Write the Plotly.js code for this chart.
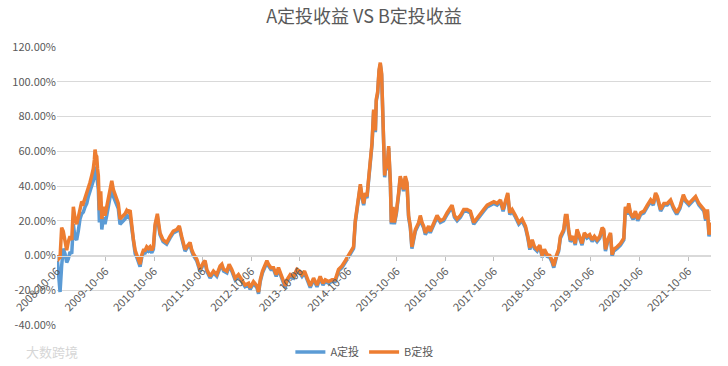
<!DOCTYPE html>
<html>
<head>
<meta charset="utf-8">
<script src="https://cdn.plot.ly/plotly-3.0.1.min.js"></script>
<style>
html,body{margin:0;padding:0;background:#fff;}
#chart{width:728px;height:366px;}
</style>
</head>
<body>
<div id="chart"></div>
<script>
// Dates of the sampled points
const dates = [
"2008-10-06","2008-10-17","2008-10-29","2008-11-10","2008-11-22","2008-12-05","2008-12-18","2008-12-30",
"2009-01-12","2009-01-25","2009-02-06","2009-02-19","2009-03-03","2009-03-15","2009-03-28","2009-04-10",
"2009-04-22","2009-05-05","2009-05-18","2009-05-30","2009-06-11","2009-06-24","2009-07-06","2009-07-14",
"2009-07-19","2009-07-25","2009-08-01","2009-08-07","2009-08-13","2009-08-21","2009-08-31","2009-09-08",
"2009-09-20","2009-10-02","2009-10-15","2009-10-27","2009-11-09","2009-11-22","2009-12-04","2009-12-17",
"2009-12-29","2010-01-10","2010-01-23","2010-02-05","2010-02-17","2010-03-02","2010-03-15","2010-03-27",
"2010-04-09","2010-04-21","2010-05-04","2010-05-17","2010-05-29","2010-06-10","2010-06-23","2010-07-06",
"2010-07-18","2010-07-31","2010-08-12","2010-08-25","2010-09-06","2010-09-19","2010-10-01","2010-10-14",
"2010-10-31","2010-11-07","2010-11-20","2010-12-13","2011-01-09","2011-02-03","2011-02-28","2011-03-26",
"2011-04-14","2011-05-02","2011-05-14","2011-05-27","2011-06-09","2011-07-04","2011-07-16","2011-07-29",
"2011-08-23","2011-09-17","2011-10-12","2011-10-25","2011-11-07","2011-12-02","2011-12-27","2012-01-21",
"2012-02-15","2012-02-28","2012-03-12","2012-04-06","2012-04-23","2012-05-13","2012-06-07","2012-07-02",
"2012-07-28","2012-08-21","2012-09-16","2012-09-28","2012-10-23","2012-11-18","2012-11-30","2012-12-13",
"2012-12-30","2013-01-19","2013-02-01","2013-02-13","2013-03-03","2013-03-23","2013-04-12","2013-04-29",
"2013-05-17","2013-06-06","2013-06-19","2013-07-02","2013-07-27","2013-08-21","2013-09-15","2013-10-05",
"2013-10-23","2013-11-11","2013-11-29","2013-12-24","2014-01-18","2014-02-13","2014-03-09","2014-03-30",
"2014-04-16","2014-05-11","2014-06-06","2014-06-30","2014-07-25","2014-08-20","2014-09-14","2014-10-08",
"2014-10-21","2014-11-15","2014-11-28","2014-12-11","2014-12-23","2015-01-05","2015-01-18","2015-01-30",
"2015-02-11","2015-02-24","2015-03-08","2015-03-21","2015-04-03","2015-04-15","2015-04-28","2015-05-05",
"2015-05-15","2015-05-26","2015-06-04","2015-06-14","2015-06-22","2015-06-29","2015-07-07","2015-07-18",
"2015-07-25","2015-08-06","2015-08-19","2015-08-26","2015-09-08","2015-09-18","2015-10-03","2015-10-20",
"2015-11-01","2015-11-14","2015-11-26","2015-12-09","2015-12-22","2016-01-03","2016-01-16","2016-01-28",
"2016-02-10","2016-02-23","2016-03-19","2016-03-31","2016-04-13","2016-04-25","2016-05-08","2016-06-02",
"2016-06-14","2016-07-09","2016-08-04","2016-08-29","2016-09-23","2016-10-19","2016-11-13","2016-11-25",
"2016-12-13","2017-01-02","2017-01-27","2017-02-21","2017-03-18","2017-04-12","2017-05-07","2017-06-01",
"2017-06-26","2017-07-21","2017-08-16","2017-09-10","2017-10-05","2017-10-30","2017-11-24","2017-12-14",
"2018-01-01","2018-01-18","2018-02-02","2018-02-20","2018-03-17","2018-04-11","2018-05-06","2018-05-31",
"2018-06-18","2018-07-03","2018-07-21","2018-08-07","2018-08-27","2018-09-16","2018-10-04","2018-10-21",
"2018-11-10","2018-11-30","2018-12-18","2018-12-30","2019-01-19","2019-02-05","2019-02-18","2019-03-03",
"2019-03-15","2019-03-28","2019-04-09","2019-04-21","2019-05-04","2019-05-24","2019-06-10","2019-06-23",
"2019-07-13","2019-07-31","2019-08-17","2019-09-06","2019-09-26","2019-10-15","2019-11-01","2019-11-21",
"2019-12-11","2019-12-29","2020-01-10","2020-01-23","2020-02-09","2020-03-01","2020-03-13","2020-03-25",
"2020-04-20","2020-05-15","2020-06-09","2020-06-21","2020-07-04","2020-07-16","2020-07-29","2020-08-18",
"2020-09-04","2020-09-22","2020-10-14","2020-11-07","2020-12-03","2020-12-28","2021-01-17","2021-02-03",
"2021-02-16","2021-03-13","2021-04-07","2021-05-02","2021-05-27","2021-06-17","2021-07-12","2021-08-05",
"2021-08-31","2021-09-17","2021-10-12","2021-11-07","2021-12-01","2021-12-26","2022-01-13","2022-02-02",
"2022-02-15","2022-02-28","2022-03-12","2022-03-25"
];

// B定投 return (%)
const bValues = [
0,-2,-1,16,14,9,3,8,
11,9,28,21,18,22,28,31,
30,33,35,39,42,46,50,55,
61,58,57,50,46,26,37,21,
28,23,28,32,36,43,38,35,
33,30,21,22,23,24,26,25,
26,17,9,3,0.5,-2.5,-5,0.5,
3,3,5,4,5,3,5,18,
24,20,13,9,7.5,11,14,15,
17,11,7.5,3.5,5,7.5,3.5,1,
-2,-8,-4,-3,-8,-12,-9,-11,
-6,-5,-8,-9,-5,-8,-13,-11,
-14,-17,-16,-18.5,-15,-17.5,-21,-14,
-9,-5,-3,-5,-7,-7,-11,-7,
-11,-15,-17.5,-14,-11,-12,-8,-9,
-11,-9,-13,-17.5,-13,-17,-12,-16,
-14,-15,-14,-14,-8,-6,-3,0,
2.5,5,20,27,34,41,34,30,
36,34,44,55,65,84,72,90,
94,107,111,105,80,70,46,55,
50,63,42,19,28,19,25,36,
45.6,42,38,45.6,42,23,17,5,
11,15,19,23,19,17,13,17,
14,19,23,20,21,24.6,28,29,
23,21,23,26.5,26.5,25.5,19,21.7,
24.6,26.5,29,30,31,30,32,26.5,
31,36,24.6,26.5,23,19,21,17,
11,4.4,9,5,3.5,6,0,3.5,
0.5,0,-3,-6,0,3.5,11,13,
15,23,23,15,9,11,7,15,
11,7,13,11,12,9,11,9,
11,16,15,3.5,9,13,0.5,3.5,
5,7,10,28,24.6,30,24.6,21.7,
25.5,21,24.6,25.5,29,32,30,36,
34,26.5,30,30,32,28,24.6,28,
35,32,30,32,34,30,28,26.5,
21,26.5,12,19
];

// A定投 return (%)
const aValues = [
0,-8,-21,-6,4,1,-4,-2,
2,1,18,10,9,14,21,24,
25,28,30,34,37,40,43,47,
51,50,47,42,38,19,31,15,
22,18,23,28,32,39,34,31,
29,27,18,19,20,21,23,22,
23,15,7,1,-1,-4,-6.5,-1,
1.5,1.5,3.5,2.5,3.5,1.5,3.5,16.5,
22.5,18.5,12,8,6.5,10,13,14,
16,10,6.5,2.5,4,6.5,2.5,0,
-3,-9,-5,-4,-9,-13,-10,-12,
-7,-6,-9,-10,-6,-9,-14,-12,
-15,-18,-17,-19.5,-16,-18.5,-22,-15,
-10,-6,-4,-6,-8,-8,-12,-8,
-12,-16,-18.5,-15,-12,-13,-9,-10,
-12,-10,-14,-18.5,-14,-18,-13,-17,
-15,-16,-15,-15,-9,-7,-4,-1,
1.5,4,19,26,33,40,33,29,
35,33,43,54,64,83,71,89,
93,106,110,104,79,69,45,54,
49,62,41,18,27,18,24,35,
44.6,41,37,44.6,41,22,16,4,
10,14,18,22,18,16,12,16,
13,18,22,19,20,23.6,27,28,
22,20,22,25.5,25.5,24.5,18,20.7,
23.6,25.5,28,29,30,29,31,25.5,
30,35,23.6,25.5,22,18,20,16,
10,3.4,8,4,2.5,5,-1,2.5,
-0.5,-1,-4,-7,-1,2.5,10,12,
14,22,22,14,8,10,6,14,
10,6,12,10,11,8,10,8,
10,15,14,2.5,8,12,-0.5,2.5,
4,6,9,27,23.6,29,23.6,20.7,
24.5,20,23.6,24.5,28,31,29,35,
33,25.5,29,29,31,27,23.6,27,
34,31,29,31,33,29,27,25.5,
20,25.5,11,18
];

const seriesNames = ["A定投", "B定投"];
const yTickVals = [-40, -20, 0, 20, 40, 60, 80, 100, 120];
const yTickText = ["-40.00%", "-20.00%", "0.00%", "20.00%", "40.00%", "60.00%", "80.00%", "100.00%", "120.00%"];
const titleText = "A定投收益 VS B定投收益";
const watermark = "大数跨境";

const FONT = "'Noto Sans CJK SC', 'Noto Sans', 'Liberation Sans', sans-serif";

const traces = [
  {x: dates, y: aValues, name: seriesNames[0], type: "scatter", mode: "lines",
   line: {color: "#5B9BD5", width: 3.5}},
  {x: dates, y: bValues, name: seriesNames[1], type: "scatter", mode: "lines",
   line: {color: "#ED7D31", width: 3.5}}
];

const layout = {
  width: 728, height: 366,
  margin: {l: 57, r: 17, t: 47, b: 41, autoexpand: false},
  paper_bgcolor: "#ffffff", plot_bgcolor: "#ffffff",
  font: {family: FONT, size: 11, color: "#595959"},
  title: {text: titleText, x: 0.5, xanchor: "center", y: 0.955, yanchor: "middle",
          font: {family: FONT, size: 18, color: "#595959"}, automargin: false},
  xaxis: {
    type: "date",
    range: ["2008-10-06", "2022-03-27"],
    anchor: "free", position: 0.25, automargin: false,
    tick0: "2008-10-06", dtick: "M12", tickformat: "%Y-%m-%d",
    tickangle: -45, ticks: "outside", ticklen: 4, tickcolor: "#bfbfbf",
    showline: true, linecolor: "#d9d9d9", linewidth: 1,
    showgrid: false, zeroline: false,
    tickfont: {family: FONT, size: 11, color: "#595959"}
  },
  yaxis: {
    range: [-40, 120], automargin: false,
    tickvals: yTickVals, ticktext: yTickText,
    showgrid: true, gridcolor: "#d9d9d9", gridwidth: 1,
    zeroline: false, showline: false, ticks: "",
    tickfont: {family: FONT, size: 11, color: "#595959"}
  },
  showlegend: true,
  legend: {orientation: "h", x: 0.47, xanchor: "center", y: -0.097, yanchor: "middle",
           font: {family: FONT, size: 11, color: "#595959"}, itemwidth: 30, tracegroupgap: 0},
  annotations: [
    {text: watermark, xref: "paper", yref: "paper", x: -0.05, y: -0.097, xanchor: "left", yanchor: "middle",
     showarrow: false, font: {family: FONT, size: 13, color: "#d6d6d6"}}
  ]
};

Plotly.newPlot("chart", traces, layout, {displayModeBar: false, staticPlot: true});
</script>
</body>
</html>
